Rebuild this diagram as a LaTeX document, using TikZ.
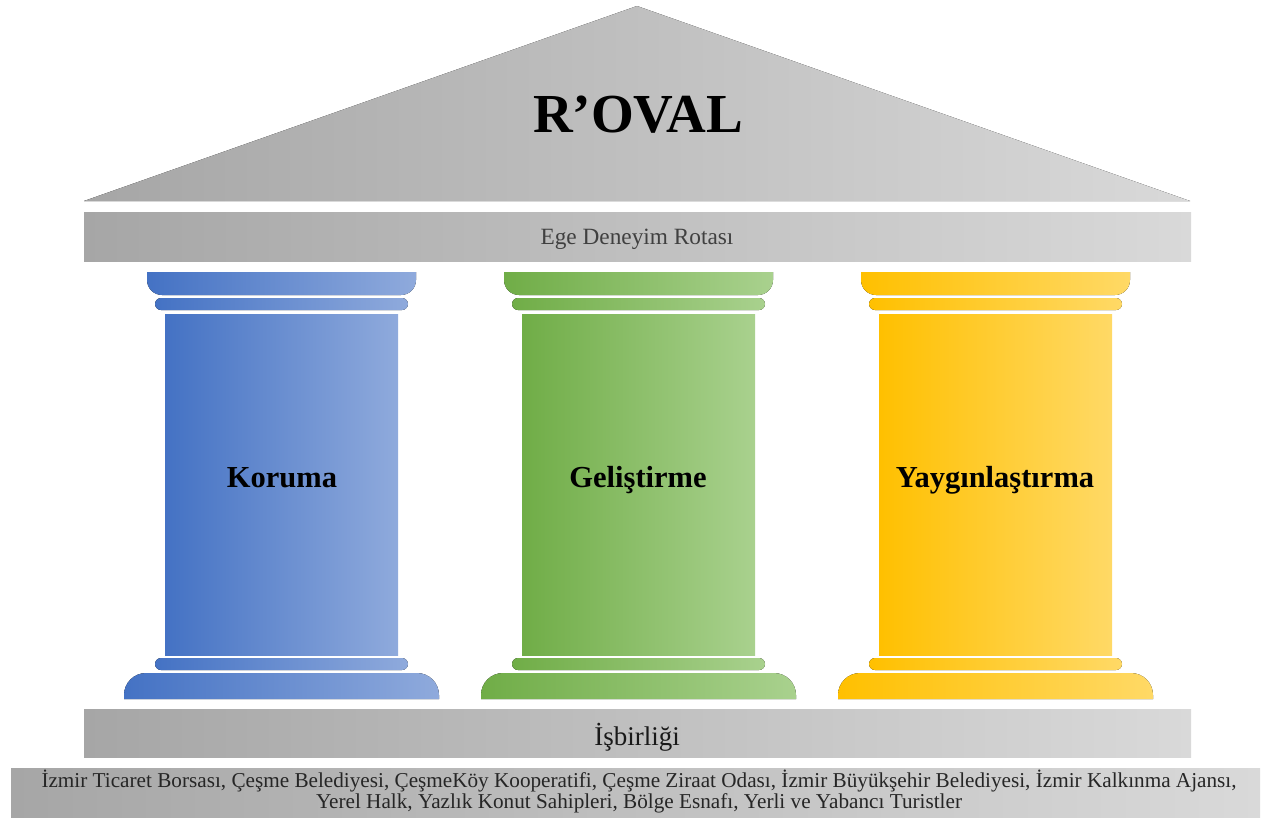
\documentclass[tikz,border=0pt]{standalone}
\usepackage{fontspec}
\setmainfont{Liberation Serif}
\usepackage{tikz}
\usetikzlibrary{positioning}
\usepackage{xcolor}

\definecolor{greyL}{HTML}{A6A6A6}
\definecolor{greyR}{HTML}{D9D9D9}
\definecolor{blueL}{HTML}{4472C4}
\definecolor{blueR}{HTML}{8FAADC}
\definecolor{greenL}{HTML}{70AD47}
\definecolor{greenR}{HTML}{A9D18E}
\definecolor{goldL}{HTML}{FFC000}
\definecolor{goldR}{HTML}{FFD966}

\begin{document}
\begin{tikzpicture}[
x=1pt, y=-1pt,
greyfill/.style={left color=greyL, right color=greyR, draw=none},
bluefill/.style={left color=blueL, right color=blueR, draw=none},
greenfill/.style={left color=greenL, right color=greenR, draw=none},
goldfill/.style={left color=goldL, right color=goldR, draw=none},
label/.style={inner sep=0pt, anchor=base},
pillartext/.style={label, font=\fontsize{30.5}{33}\selectfont\bfseries}
]
\useasboundingbox (0,0) rectangle (1266,819);

% roof and beams
\fill[greyfill] (84,201) -- (637,6) -- (1190,201) -- cycle;
\fill[greyfill] (84,212) rectangle (1191,261);
\fill[greyfill] (84,709) rectangle (1191,757);
\fill[greyfill] (11,768) rectangle (1260,817);

% blue column
\fill[bluefill] (147,272) -- (416,272) -- (416,280) arc[start angle=0, end angle=90, radius=15] -- (162,295) arc[start angle=90, end angle=180, radius=15] -- cycle;
\fill[bluefill, rounded corners=6] (155,298) rectangle (408,310);
\fill[bluefill] (165,314) rectangle (398,655);
\fill[bluefill, rounded corners=6] (155,658) rectangle (408,670);
\fill[bluefill] (124,699) -- (124,695) arc[start angle=180, end angle=270, radius=22] -- (417,673) arc[start angle=270, end angle=360, radius=22] -- (439,699) -- cycle;

% green column
\fill[greenfill] (504,272) -- (773,272) -- (773,280) arc[start angle=0, end angle=90, radius=15] -- (519,295) arc[start angle=90, end angle=180, radius=15] -- cycle;
\fill[greenfill, rounded corners=6] (512,298) rectangle (765,310);
\fill[greenfill] (522,314) rectangle (755,655);
\fill[greenfill, rounded corners=6] (512,658) rectangle (765,670);
\fill[greenfill] (481,699) -- (481,695) arc[start angle=180, end angle=270, radius=22] -- (774,673) arc[start angle=270, end angle=360, radius=22] -- (796,699) -- cycle;

% gold column
\fill[goldfill] (861,272) -- (1130,272) -- (1130,280) arc[start angle=0, end angle=90, radius=15] -- (876,295) arc[start angle=90, end angle=180, radius=15] -- cycle;
\fill[goldfill, rounded corners=6] (869,298) rectangle (1122,310);
\fill[goldfill] (879,314) rectangle (1112,655);
\fill[goldfill, rounded corners=6] (869,658) rectangle (1122,670);
\fill[goldfill] (838,699) -- (838,695) arc[start angle=180, end angle=270, radius=22] -- (1131,673) arc[start angle=270, end angle=360, radius=22] -- (1153,699) -- cycle;

% texts
\node[label, font=\fontsize{55}{60}\selectfont\bfseries] (roval) at (638,132) {R’OVAL};
\node[label, font=\fontsize{23.3}{25}\selectfont, text=black!75] (route) at (637,244) {Ege Deneyim Rotası};
\node[pillartext] (koruma) at (282,487) {Koruma};
\node[pillartext] (gelistirme) at (638,487) {Geliştirme};
\node[pillartext] (yaygin) at (995,487) {Yaygınlaştırma};
\node[label, font=\fontsize{27}{30}\selectfont, text=black!90] (isbirligi) at (637,745) {İşbirliği};
\node[inner sep=0pt, anchor=north, align=center, font=\fontsize{21.2}{21}\selectfont, text=black!85] (partners) at (639,770)
{İzmir Ticaret Borsası, Çeşme Belediyesi, ÇeşmeKöy Kooperatifi, Çeşme Ziraat Odası, İzmir Büyükşehir Belediyesi, İzmir Kalkınma Ajansı,\\
Yerel Halk, Yazlık Konut Sahipleri, Bölge Esnafı, Yerli ve Yabancı Turistler};

\end{tikzpicture}
\end{document}
